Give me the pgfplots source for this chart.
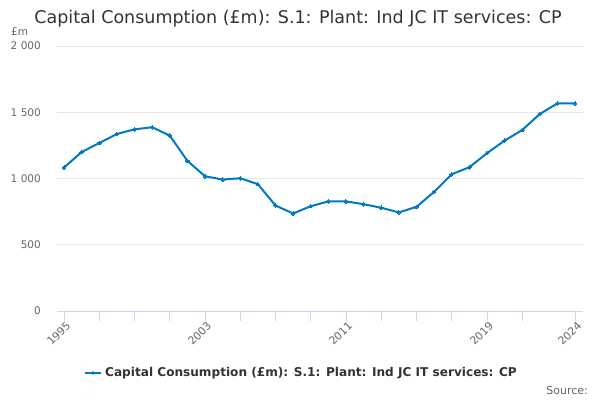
\documentclass[border=0pt]{standalone}
\usepackage{fontspec}
\setmainfont{DejaVu Sans}
\usepackage{pgfplots}
\pgfplotsset{compat=1.18}
\definecolor{serie}{RGB}{0,121,194}
\definecolor{axline}{RGB}{204,214,235}
\definecolor{gridc}{RGB}{230,230,230}
\definecolor{lab}{RGB}{102,102,102}
\definecolor{titc}{RGB}{51,51,51}
\begin{document}
\begin{tikzpicture}[x=1pt,y=1pt]
\path[use as bounding box] (0,0) rectangle (600,400);
\node[text=titc, font=\fontsize{17.5}{20}\selectfont] at (298,381) {Capital Consumption (£m): S.1: Plant: Ind JC IT services: CP};
\node[text=lab, anchor=west, inner sep=0, font=\fontsize{10.5}{12}\selectfont] at (11,368) {£m};
\begin{axis}[
  at={(57pt,89pt)}, anchor=south west,
  scale only axis, width=526pt, height=265pt,
  xmin=1994.6, xmax=2024.45, ymin=0, ymax=2000,
  axis x line*=bottom, axis y line*=left,
  x axis line style={draw=axline, line width=0.8pt, -},
  y axis line style={draw=none},
  xtick={1995,2003,2011,2019,2024},
  xticklabels={1995,2003,2011,2019,2024},
  minor xtick={1997,1999,2001,2005,2007,2009,2013,2015,2017,2021},
  major tick length=9.5pt, minor tick length=9.5pt,
  xtick style={draw=axline, line width=0.8pt},
  minor x tick style={draw=axline, line width=0.8pt},
  tick align=outside,
  xticklabel style={rotate=45, anchor=north east, inner sep=0pt, xshift=1pt, yshift=-1pt, text=lab, font=\fontsize{10.8}{12}\selectfont},
  ytick={0,500,1000,1500,2000},
  yticklabels={0,500,1~000,1~500,2~000},
  yticklabel style={anchor=east, inner sep=0pt, text=lab, font=\fontsize{10.5}{12}\selectfont},
  ytick style={draw=none},
  yticklabel shift=6.5pt,
  ymajorgrids, grid style={draw=gridc, line width=0.8pt},
  clip=false,
]
\addplot[serie, line width=2pt, mark=*, mark size=1.8pt, mark options={fill=serie, draw=serie, line width=0pt}] coordinates {
(1995,1083) (1996,1200) (1997,1268) (1998,1336) (1999,1371) (2000,1387)
(2001,1324) (2002,1133) (2003,1017) (2004,992) (2005,1002) (2006,957)
(2007,796) (2008,736) (2009,791) (2010,827) (2011,827) (2012,806)
(2013,779) (2014,744) (2015,786) (2016,899) (2017,1032) (2018,1085)
(2019,1191) (2020,1286) (2021,1366) (2022,1487) (2023,1567) (2024,1567)
};
\end{axis}
\draw[serie, line width=2pt] (85,27) -- (101,27);
\fill[serie] (93,27) circle (1.8pt);
\node[text=titc, anchor=west, inner sep=0, font=\fontsize{12.1}{14}\bfseries\selectfont] at (105,27) {Capital Consumption (£m): S.1: Plant: Ind JC IT services: CP};
\node[text=lab, anchor=east, inner sep=0, font=\fontsize{11}{13}\selectfont] at (588,10) {Source:};
\end{tikzpicture}
\end{document}
